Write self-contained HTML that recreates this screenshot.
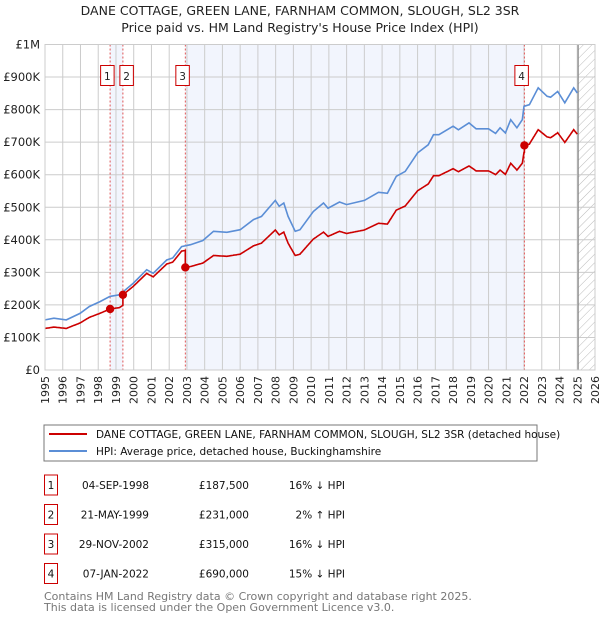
<!DOCTYPE html>
<html><head><meta charset="utf-8"><style>
body{margin:0;background:#fff;width:600px;height:620px;overflow:hidden;font-family:"DejaVu Sans","Liberation Sans",sans-serif;}
svg text{font-family:"DejaVu Sans","Liberation Sans",sans-serif;}
</style></head><body>
<svg id="c" width="600" height="620" viewBox="0 0 600 620">
<defs><pattern id="hatch" width="6" height="6" patternUnits="userSpaceOnUse" patternTransform="rotate(45)"><line x1="0" y1="0" x2="0" y2="6" stroke="#bbb" stroke-width="1"/></pattern></defs>
<text x="300" y="15" text-anchor="middle" font-size="12.5" fill="#222">DANE COTTAGE, GREEN LANE, FARNHAM COMMON, SLOUGH, SL2 3SR</text>
<text x="300" y="32" text-anchor="middle" font-size="12.5" fill="#222">Price paid vs. HM Land Registry's House Price Index (HPI)</text>
<g id="plot"></g>
<rect x="44" y="425" width="493" height="36" fill="#fff" stroke="#777" stroke-width="1"/>
<line x1="49" y1="434" x2="87" y2="434" stroke="#cc0000" stroke-width="2"/>
<text x="96" y="438" font-size="10.5" fill="#111">DANE COTTAGE, GREEN LANE, FARNHAM COMMON, SLOUGH, SL2 3SR (detached house)</text>
<line x1="49" y1="451" x2="87" y2="451" stroke="#5b8ed6" stroke-width="2"/>
<text x="96" y="455" font-size="10.5" fill="#111">HPI: Average price, detached house, Buckinghamshire</text>
<g id="table" font-size="10.5" fill="#111"></g>
<text x="44" y="600" font-size="11" fill="#777">Contains HM Land Registry data © Crown copyright and database right 2025.</text>
<text x="44" y="611" font-size="11" fill="#777">This data is licensed under the Open Government Licence v3.0.</text>
</svg>
<script>
const hpiYears=[1995.0,1995.5,1996.2,1996.97,1997.5,1998.1,1998.66,1999.2,1999.98,2000.73,2001.1,2001.86,2002.2,2002.7,2003.2,2003.9,2004.5,2005.25,2006.0,2006.75,2007.2,2007.98,2008.2,2008.46,2008.7,2009.1,2009.37,2010.12,2010.7,2010.95,2011.6,2012.0,2013.0,2013.8,2014.3,2014.8,2015.3,2016.0,2016.6,2016.9,2017.2,2018.0,2018.3,2018.9,2019.3,2020.0,2020.4,2020.65,2020.95,2021.25,2021.6,2021.9,2022.0,2022.3,2022.8,2023.3,2023.5,2023.9,2024.3,2024.8,2025.0];
const hpiValues=[154,159,154,174,195,210,226,231,267,308,297,338,344,379,385,398,426,423,431,462,472,521,503,513,472,426,431,487,513,497,516,508,521,546,543,595,610,667,692,723,723,749,738,759,741,741,727,744,728,769,744,769,810,815,867,841,838,856,821,867,851];
const saleLabels=["1","2","3","4"];
const saleYears=[1998.67,1999.39,2002.91,2022.02];
const salePrices=[187.5,231,315,690];
const saleDates=["04-SEP-1998","21-MAY-1999","29-NOV-2002","07-JAN-2022"];
const salePriceText=["£187,500","£231,000","£315,000","£690,000"];
const saleDiffText=["16% ↓ HPI","2% ↑ HPI","16% ↓ HPI","15% ↓ HPI"];
const yTicks=[0,100,200,300,400,500,600,700,800,900,1000];
const yTickLabels=["£0","£100K","£200K","£300K","£400K","£500K","£600K","£700K","£800K","£900K","£1M"];
const xTicks=[1995,1996,1997,1998,1999,2000,2001,2002,2003,2004,2005,2006,2007,2008,2009,2010,2011,2012,2013,2014,2015,2016,2017,2018,2019,2020,2021,2022,2023,2024,2025,2026];

const X0=45,X1=595,Y0=370,Y1=44.5,xMin=1995,xMax=2026,vMax=1000;
const sx=y=>X0+(y-xMin)/(xMax-xMin)*(X1-X0);
const sy=v=>Y0-v/vMax*(Y0-Y1);
const NS="http://www.w3.org/2000/svg";
const plot=document.getElementById('plot');
function mk(tag,attrs,parent){const e=document.createElementNS(NS,tag);for(const k in attrs)e.setAttribute(k,attrs[k]);(parent||plot).appendChild(e);return e;}
function hpiAt(y){if(y<=hpiYears[0])return hpiValues[0];for(let i=1;i<hpiYears.length;i++){if(y<=hpiYears[i]){const t=(y-hpiYears[i-1])/(hpiYears[i]-hpiYears[i-1]);return hpiValues[i-1]+t*(hpiValues[i]-hpiValues[i-1]);}}return hpiValues[hpiValues.length-1];}

let r=mk('rect',{x:sx(saleYears[0]),y:Y1,width:sx(saleYears[1])-sx(saleYears[0]),height:Y0-Y1,fill:'#f2f5fd'});


r=mk('rect',{x:sx(saleYears[2]),y:Y1,width:sx(saleYears[3])-sx(saleYears[2]),height:Y0-Y1,fill:'#f2f5fd'});


const hatchStart=2025.05;
r=mk('rect',{x:sx(hatchStart),y:Y1,width:X1-sx(hatchStart),height:Y0-Y1,fill:'url(#hatch)'});


yTicks.forEach((v,i)=>{
 const l=mk('line',{x1:X0,x2:X1,y1:sy(v),y2:sy(v),stroke:'#cccccc','stroke-width':1});
 
 
 const t=mk('text',{x:X0-5,y:sy(v)+4,'text-anchor':'end','font-size':11.5,fill:'#222'});
 t.textContent=yTickLabels[i];
 
 
});
xTicks.forEach(y=>{
 const l=mk('line',{x1:sx(y),x2:sx(y),y1:Y1,y2:Y0,stroke:'#cccccc','stroke-width':1});
 
 
 const tx=sx(y)+4,ty=376;
 const t=mk('text',{x:tx,y:ty,'text-anchor':'end','font-size':11,fill:'#222',transform:'rotate(-90 '+tx+' '+ty+')'});
 t.textContent=y;
 
 
});
let nl=mk('line',{x1:sx(hatchStart),x2:sx(hatchStart),y1:Y1,y2:Y0,stroke:'#888','stroke-width':1.2});


saleYears.forEach((y,i)=>{
 const l=mk('line',{x1:sx(y),x2:sx(y),y1:Y1,y2:Y0,stroke:'#e05555','stroke-width':1,'stroke-dasharray':'2,2'});
 
 
});
let d='';hpiYears.forEach((y,i)=>{d+=(i?'L':'M')+sx(y).toFixed(1)+','+sy(hpiValues[i]).toFixed(1);});
const hp=mk('path',{d:d,fill:'none',stroke:'#5b8ed6','stroke-width':1.6});


const grid=[];for(let y=1995;y<=2025.0001;y+=1/24)grid.push(y);
const ptsY=[...new Set(grid.concat(saleYears).concat(hpiYears))].filter(y=>y<=2025.0).sort((a,b)=>a-b);
let pd='';let first=true;
function ratioAt(y){let k=-1;for(let i=0;i<saleYears.length;i++)if(saleYears[i]<=y)k=i;const idx=k<0?0:k;return salePrices[idx]/hpiAt(saleYears[idx]);}
ptsY.forEach(y=>{
 const idx=saleYears.indexOf(y);
 if(idx>0){const prev=salePrices[idx-1]/hpiAt(saleYears[idx-1])*hpiAt(y);pd+='L'+sx(y).toFixed(1)+','+sy(prev).toFixed(1);}
 const v=ratioAt(y)*hpiAt(y);
 pd+=(first?'M':'L')+sx(y).toFixed(1)+','+sy(v).toFixed(1);first=false;
});
const pp=mk('path',{d:pd,fill:'none',stroke:'#cc0000','stroke-width':1.6});


saleYears.forEach((y,i)=>{
 const c=mk('circle',{cx:sx(y),cy:sy(salePrices[i]),r:4.2,fill:'#cc0000'});
 
 
 const bx=i===1?sx(y)-3:sx(y)-9.5;
 const b=mk('rect',{x:bx,y:65.5,width:13.5,height:20,fill:'#fff',stroke:'#cc0000','stroke-width':1});
 
 
 const t=mk('text',{x:bx+6.75,y:80,'text-anchor':'middle','font-size':10.5,fill:'#222'});
 t.textContent=saleLabels[i];
 
 
});
let ax=mk('rect',{x:X0,y:Y1,width:X1-X0,height:Y0-Y1,fill:'none',stroke:'#cccccc','stroke-width':1});


const tb=document.getElementById('table');
saleLabels.forEach((s,i)=>{
 const cy=485+i*29.5;
 const b=mk('rect',{x:44.5,y:cy-10,width:13,height:20,fill:'#fff',stroke:'#cc0000','stroke-width':1},tb);
 
 
 const cols=[[51,'middle',s,'table-sale-number'],[149,'end',saleDates[i],'table-sale-date'],[249,'end',salePriceText[i],'table-sale-price'],[345,'end',saleDiffText[i],'table-sale-hpi-diff']];
 cols.forEach(cl=>{const t=mk('text',{x:cl[0],y:cy+4,'text-anchor':cl[1]},tb);t.textContent=cl[2];
  
  });
});
</script>
</body></html>
